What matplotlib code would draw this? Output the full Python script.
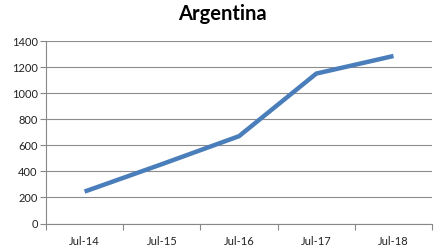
import matplotlib.pyplot as plt
import numpy as np

# data
dates = ['Jul-14', 'Jul-15', 'Jul-16', 'Jul-17', 'Jul-18']
values = [245, 455, 670, 1150, 1285]
yticks = [0, 200, 400, 600, 800, 1000, 1200, 1400]

plt.rcParams['font.family'] = ['Lato', 'DejaVu Sans']

fig = plt.figure(figsize=(4.45, 2.5), dpi=100)
ax = fig.add_axes([0.1034, 0.106, 0.8676, 0.730])

x = np.arange(len(dates))
ax.plot(x, values, color='#4A7EBB', linewidth=3.2, solid_capstyle='butt', zorder=3)

ax.set_xlim(-0.5, len(dates) - 0.5)
ax.set_ylim(0, 1400)
ax.set_yticks(yticks)
ax.set_yticklabels([str(v) for v in yticks], fontsize=8, color='#222222')

# category axis: tick marks between categories, labels in the middle
ax.set_xticks(np.arange(-0.5, len(dates), 1.0))
ax.set_xticklabels([])
ax.set_xticks(x, minor=True)
ax.set_xticklabels(dates, minor=True, fontsize=8, color='#222222')
ax.tick_params(axis='x', which='major', length=4, color='#888888')
ax.tick_params(axis='x', which='minor', length=0, pad=9)
ax.tick_params(axis='y', length=4, color='#888888', pad=2)

ax.grid(axis='y', color='#8c8c8c', linewidth=0.8)
ax.set_axisbelow(True)
for s in ['top', 'right']:
    ax.spines[s].set_visible(False)
ax.spines['left'].set_color('#888888')
ax.spines['bottom'].set_color('#888888')

fig.text(0.5, 0.945, 'Argentina', ha='center', va='center', fontsize=14.5, fontweight='bold')

fig.savefig('out.png', dpi=100)
